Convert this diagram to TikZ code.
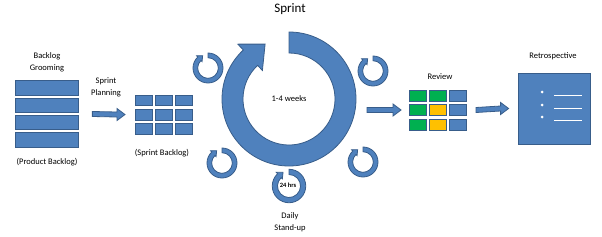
\documentclass[tikz,border=0pt]{standalone}
\usepackage{fontspec}
\setmainfont{Carlito}
\usetikzlibrary{calc,positioning}

\definecolor{officeblue}{HTML}{4F81BD}
\definecolor{officeedge}{HTML}{385D8A}
\definecolor{officegreen}{HTML}{00B050}
\definecolor{officeyellow}{HTML}{FFC000}

\tikzset{
    cell/.style={fill=officeblue, draw=officeedge, line width=0.8pt},
    lbl/.style={font=\fontsize{8.5}{12}\selectfont, align=center, inner sep=0pt},
    holder/.style={inner sep=0pt, outer sep=0pt},
    blockarrow/.style={cell, to path={
        ($(\tikztostart)+(0,2.5)$) -- ($(\tikztotarget)+(-8,2.5)$) -- ($(\tikztotarget)+(-8,6)$)
        -- (\tikztotarget) -- ($(\tikztotarget)+(-8,-6)$) -- ($(\tikztotarget)+(-8,-2.5)$)
        -- ($(\tikztostart)+(0,-2.5)$) -- cycle}},
    pics/cyclearrow/.style={code={
        \begin{scope}[yscale=-1]
            \draw[cell] (90:67) arc[start angle=90, end angle=-227, radius=67]
                -- (133:75) -- (-23.9,54.9) -- (133:39) -- (133:46)
                arc[start angle=-227, end angle=90, radius=46] -- cycle;
        \end{scope}
    }}
}

\begin{document}
\begin{tikzpicture}[x=1pt, y=-1pt]
    \useasboundingbox (0,0) rectangle (602,236);

    % Title
    \node[font=\fontsize{13}{15}\selectfont, inner sep=0pt] (title) at (290,9) {Sprint};

    % Product backlog
    \node[holder, minimum width=63.3pt, minimum height=66.4pt] (backlog) at (46.7,114) {};
    \foreach \i in {0,...,3} {
        \draw[cell] (15,80.7+17.3*\i) rectangle ++(63.3,14.5);
    }
    \node[lbl] (grooming) at (47,62) {Backlog\\Grooming};
    \node[lbl] (prodbl) at (47,162) {(Product Backlog)};

    % Sprint backlog
    \node[holder, minimum width=57.8pt, minimum height=39.1pt] (sprintbl) at (163.9,114.5) {};
    \foreach \r in {0,1,2} {
        \foreach \c in {0,1,2} {
            \draw[cell] (135+20*\c,95+14.2*\r) rectangle ++(17.8,10.7);
        }
    }
    \node[lbl] (planning) at (106,87.5) {Sprint\\Planning};
    \node[lbl] (sprintbllbl) at (162,153) {(Sprint Backlog)};

    % Sprint cycle
    \pic at (289,99) {cyclearrow};
    \node[lbl] (ring) at (289,99) {1-4 weeks};

    % Daily cycles
    \foreach \x/\y in {208/68, 373/71, 222/163, 363/162} {
        \pic[scale=0.224] at (\x,\y) {cyclearrow};
    }
    \pic[scale=0.25] at (289,186) {cyclearrow};
    \node[font=\fontsize{6.5}{8}\selectfont\bfseries, inner sep=0pt] (daily) at (288,185) {24 hrs};
    \node[lbl] (standup) at (290,222) {Daily\\Stand-up};

    % Review
    \node[holder, minimum width=57pt, minimum height=40pt] (review) at (437.5,110) {};
    \foreach \a/\b/\cc [count=\r from 0] in {officegreen/officegreen/officeblue,
                                             officegreen/officeyellow/officeblue,
                                             officegreen/officeyellow/officeblue} {
        \draw[cell, fill=\a]  (409,90+14.5*\r) rectangle ++(17,11);
        \draw[cell, fill=\b]  (429,90+14.5*\r) rectangle ++(17,11);
        \draw[cell, fill=\cc] (449,90+14.5*\r) rectangle ++(17,11);
    }
    \node[lbl] (reviewlbl) at (440,77) {Review};

    % Retrospective
    \node[cell, minimum width=72pt, minimum height=71pt] (retro) at (554,108.5) {};
    \foreach \y in {92,105,117} {
        \fill[white] (542,\y) circle (1.5);
        \draw[white, line width=0.6pt] (554,\y+3) -- (582,\y+3);
    }
    \node[lbl] (retrolbl) at (553,56) {Retrospective};

    % Flow arrows
    \path[blockarrow] ([xshift=14pt]backlog.east) to ([xshift=-10pt]sprintbl.west);
    \path[blockarrow] ($(ring.center)+(78,11)$) to ([xshift=-8pt]review.west);
    \path[blockarrow] ([xshift=10pt]review.east) to ([xshift=-9pt]retro.west);
\end{tikzpicture}
\end{document}
